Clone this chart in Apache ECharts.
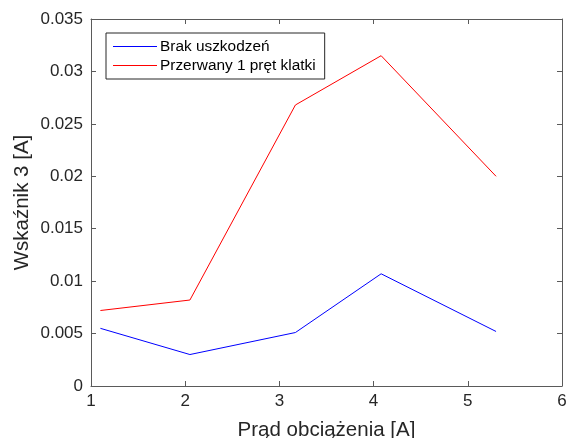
<!DOCTYPE html>
<html>
<head>
<meta charset="utf-8">
<script src="https://cdn.jsdelivr.net/npm/echarts@6/dist/echarts.min.js"></script>
<style>html,body{margin:0;padding:0;background:#fff;}#c{width:568px;height:438px;}</style>
</head>
<body>
<div id="c"></div>
<script>
var loadCurrent = [1.1, 2.05, 3.17, 4.08, 5.3];
var seriesNames = ['Brak uszkodzeń', 'Przerwany 1 pręt klatki'];
var healthy = [0.0055, 0.0030, 0.0051, 0.0107, 0.0052];
var brokenBar = [0.0072, 0.0082, 0.0268, 0.0315, 0.0200];
var xLabel = 'Prąd obciążenia [A]';
var yLabel = 'Wskaźnik 3 [A]';

var font = 'Liberation Sans, Arial, Helvetica, sans-serif';
var axisCol = '#5a5a5a';
var txtCol = '#262626';

function pairs(xs, ys) { return xs.map(function (x, i) { return [x, ys[i]]; }); }

var chart = echarts.init(document.getElementById('c'), null, {renderer: 'canvas'});
var axisLineCommon = {show: true, onZero: false, lineStyle: {color: axisCol, width: 1}};
var tickCommon = {show: true, inside: true, length: 5, lineStyle: {color: axisCol, width: 1}};
chart.setOption({
  animation: false,
  backgroundColor: '#fff',
  grid: {left: 91, right: 6, top: 19, bottom: 52, containLabel: false, outerBoundsMode: 'none'},
  legend: {
    orient: 'vertical', left: 106, top: 33,
    data: seriesNames,
    icon: 'rect', itemWidth: 44, itemHeight: 1, itemGap: 4,
    padding: [6, 9, 6, 7],
    backgroundColor: '#fff', borderColor: '#262626', borderWidth: 1, borderRadius: 0,
    textStyle: {fontFamily: font, fontSize: 15.4, color: '#000', padding: [0, 0, 0, -2]},
    width: 216
  },
  xAxis: [{
    type: 'value', min: 1, max: 6, interval: 1, position: 'bottom',
    name: xLabel, nameLocation: 'middle', nameGap: 34,
    nameTextStyle: {fontFamily: font, fontSize: 20.5, color: txtCol},
    axisLine: axisLineCommon, axisTick: tickCommon,
    axisLabel: {fontFamily: font, fontSize: 17, color: txtCol, margin: 7},
    splitLine: {show: false}
  }, {
    type: 'value', min: 1, max: 6, interval: 1, position: 'top',
    axisLine: axisLineCommon, axisTick: tickCommon,
    axisLabel: {show: false}, splitLine: {show: false}
  }],
  yAxis: [{
    type: 'value', min: 0, max: 0.035, interval: 0.005, position: 'left',
    name: yLabel, nameLocation: 'middle', nameGap: 58, nameMoveOverlap: false,
    nameTextStyle: {fontFamily: font, fontSize: 20.5, color: txtCol},
    axisLine: axisLineCommon, axisTick: tickCommon,
    axisLabel: {fontFamily: font, fontSize: 17, color: txtCol, margin: 8},
    splitLine: {show: false}
  }, {
    type: 'value', min: 0, max: 0.035, interval: 0.005, position: 'right',
    axisLine: axisLineCommon, axisTick: tickCommon,
    axisLabel: {show: false}, splitLine: {show: false}
  }],
  series: [{
    name: seriesNames[0], type: 'line', data: pairs(loadCurrent, healthy),
    showSymbol: false, symbol: 'none', lineStyle: {color: '#0000ff', width: 1}, itemStyle: {color: '#0000ff'}
  }, {
    name: seriesNames[1], type: 'line', data: pairs(loadCurrent, brokenBar),
    showSymbol: false, symbol: 'none', lineStyle: {color: '#ff0000', width: 1}, itemStyle: {color: '#ff0000'}
  }]
});
</script>
</body>
</html>
